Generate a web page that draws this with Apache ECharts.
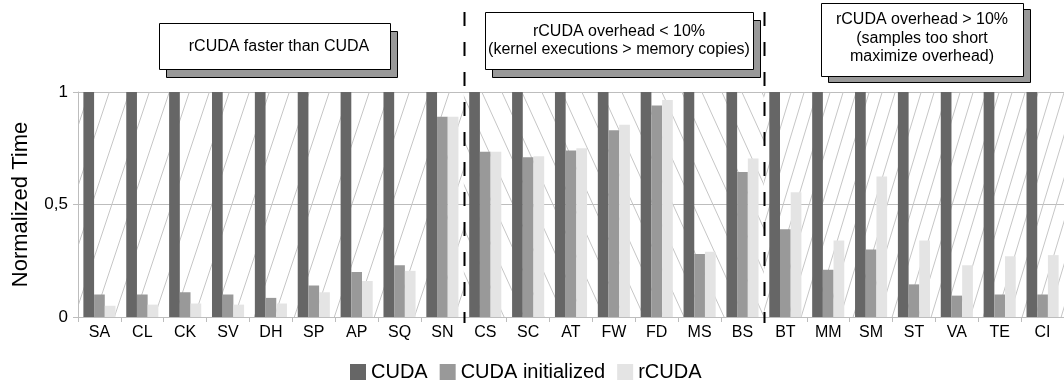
<!DOCTYPE html>
<html>
<head>
<meta charset="utf-8">
<script src="https://cdn.jsdelivr.net/npm/echarts@6/dist/echarts.min.js"></script>
<style>
  html, body { margin: 0; padding: 0; background: #fff; }
  #chart { width: 1064px; height: 386px; }
</style>
</head>
<body>
<div id="chart"></div>
<script>
// Benchmarks, grouped into three behaviour classes
const categories = ['SA','CL','CK','SV','DH','SP','AP','SQ','SN','CS','SC','AT','FW','FD','MS','BS','BT','MM','SM','ST','VA','TE','CI'];
const cudaTimes = [1,1,1,1,1,1,1,1,1,1,1,1,1,1,1,1,1,1,1,1,1,1,1];
const cudaInitTimes = [0.10,0.10,0.11,0.10,0.085,0.14,0.20,0.23,0.89,0.735,0.71,0.74,0.83,0.94,0.28,0.645,0.39,0.21,0.30,0.145,0.095,0.10,0.10];
const rcudaTimes = [0.05,0.055,0.06,0.055,0.06,0.11,0.16,0.205,0.89,0.735,0.715,0.75,0.855,0.965,0.29,0.705,0.555,0.34,0.625,0.34,0.23,0.27,0.275];
const seriesNames = ['CUDA', 'CUDA initialized', 'rCUDA'];
const yTicks = [0, 0.5, 1];
// group boundaries, in category units along the x axis
const groupBounds = [0, 9, 16, 23];
const groupNotes = [
  'rCUDA faster than CUDA',
  'rCUDA overhead < 10%\n(kernel executions > memory copies)',
  'rCUDA overhead > 10%\n(samples too short\nmaximize overhead)'
];

const FONT = '"Liberation Sans", Arial, sans-serif';
const GRID_GRAY = '#bdbdbd';

// diagonal hatch tile: step = horizontal spacing, rise = slope, dir = +1 for "/", -1 for "\"
function hatch(step, rise, dir) {
  const c = document.createElement('canvas');
  c.width = step;
  c.height = Math.round(step * rise);
  const g = c.getContext('2d');
  g.strokeStyle = '#c6c6c6';
  g.lineWidth = 1;
  for (let k = -1; k <= 1; k++) {
    g.beginPath();
    if (dir > 0) { g.moveTo(k * step, c.height); g.lineTo(k * step + step, 0); }
    else { g.moveTo(k * step, 0); g.lineTo(k * step + step, c.height); }
    g.stroke();
  }
  return { image: c, repeat: 'repeat' };
}
const hatches = [hatch(20, 3, 1), hatch(20, 2.2, -1), hatch(13, 3.3, 1)];

const chart = echarts.init(document.getElementById('chart'), null, { renderer: 'canvas' });

const barColors = ['#666666', '#999999', '#e4e4e4'];
const values = [cudaTimes, cudaInitTimes, rcudaTimes];

chart.setOption({
  animation: false,
  backgroundColor: '#ffffff',
  textStyle: { fontFamily: FONT },
  grid: { left: 78, top: 92, width: 994, bottom: 69, containLabel: false },
  legend: {
    data: seriesNames,
    left: 345, top: 357,
    itemWidth: 16, itemHeight: 16, itemGap: 12,
    icon: 'rect',
    textStyle: { fontSize: 20, color: '#000', fontFamily: FONT }
  },
  xAxis: [{
    type: 'category',
    data: categories,
    axisLine: { lineStyle: { color: GRID_GRAY, width: 1 } },
    axisTick: { show: true, length: 5, interval: 0, lineStyle: { color: GRID_GRAY } },
    axisLabel: { interval: 0, fontSize: 16, color: '#000', margin: 8, fontFamily: FONT },
    splitLine: { show: false }
  }, {
    type: 'value', min: 0, max: categories.length, show: false
  }],
  yAxis: {
    type: 'value', min: 0, max: 1, interval: 0.5,
    name: 'Normalized Time', nameLocation: 'middle', nameGap: 46,
    nameTextStyle: { fontSize: 22, color: '#000', fontFamily: FONT },
    axisLine: { show: true, lineStyle: { color: GRID_GRAY } },
    axisTick: { show: true, length: 5, lineStyle: { color: GRID_GRAY } },
    axisLabel: {
      fontSize: 17, color: '#000', margin: 10, fontFamily: FONT,
      formatter: v => yTicks.includes(v) ? String(v).replace('.', ',') : ''
    },
    splitLine: { show: true, lineStyle: { color: GRID_GRAY, width: 1 } }
  },
  series: [
    {
      type: 'line', xAxisIndex: 1, yAxisIndex: 0, data: [], silent: true, z: 0,
      markArea: {
        silent: true, z: 0,
        data: hatches.map((pat, i) => [
          { xAxis: groupBounds[i], yAxis: 0, itemStyle: { color: pat, borderWidth: 0 } },
          { xAxis: groupBounds[i + 1], yAxis: 1 }
        ])
      }
    },
    ...seriesNames.map((name, i) => ({
      name, type: 'bar', data: values[i],
      barWidth: 10.7, barGap: '0%', z: 2,
      itemStyle: { color: barColors[i] }
    }))
  ]
});

// group separators and annotation boxes
const topY = 12, bottomY = 323;
const graphics = [];
[groupBounds[1], groupBounds[2]].forEach(b => {
  const x = Math.round(chart.convertToPixel({ xAxisIndex: 1 }, b)) + 0.5;
  graphics.push({
    type: 'line', silent: true, z: 10,
    shape: { x1: x, y1: topY, x2: x, y2: bottomY },
    style: { stroke: '#000', lineWidth: 2, lineDash: [14, 16] }
  });
});

const boxes = [
  { x: 159, y: 23, w: 231, h: 46, dx: 7, dy: 8, tx: 279, ty: 47 },
  { x: 485, y: 12, w: 268, h: 57, dx: 7, dy: 8, tx: 619, ty: 40.5 },
  { x: 821, y: 3, w: 202, h: 73, dx: 7, dy: 6, tx: 922, ty: 38.5 }
];
boxes.forEach((b, i) => {
  graphics.push({
    type: 'rect', silent: true, z: 20,
    shape: { x: b.x + b.dx + 0.5, y: b.y + b.dy + 0.5, width: b.w, height: b.h },
    style: { fill: '#999999', stroke: '#000', lineWidth: 1 }
  });
  graphics.push({
    type: 'rect', silent: true, z: 21,
    shape: { x: b.x + 0.5, y: b.y + 0.5, width: b.w, height: b.h },
    style: { fill: '#ffffff', stroke: '#000', lineWidth: 1 }
  });
  graphics.push({
    type: 'text', silent: true, z: 22,
    x: b.tx, y: b.ty,
    style: {
      text: groupNotes[i], fill: '#000',
      fontSize: 16, fontFamily: FONT, lineHeight: 18.5,
      align: 'center', verticalAlign: 'middle',
      textAlign: 'center', textVerticalAlign: 'middle'
    }
  });
});
chart.setOption({ graphic: graphics });
</script>
</body>
</html>
